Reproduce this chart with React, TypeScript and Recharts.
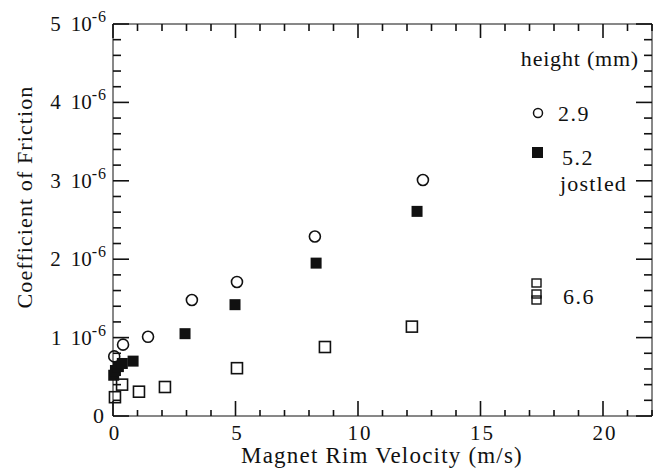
import { Scatter, ScatterChart, XAxis, YAxis } from "recharts";

// coefficient values are in units of 1e-6
const xTicks = [0, 1, 2, 3, 4, 5, 6, 7, 8, 9, 10, 11, 12, 13, 14, 15, 16, 17, 18, 19, 20, 21, 22];
const yTicks = [
  0, 0.2, 0.4, 0.6, 0.8, 1, 1.2, 1.4, 1.6, 1.8, 2, 2.2, 2.4, 2.6, 2.8, 3, 3.2, 3.4, 3.6, 3.8, 4, 4.2, 4.4,
  4.6, 4.8, 5,
];

const velocity29 = [0.05, 0.41, 1.43, 3.22, 5.06, 8.24, 12.65];
const friction29 = [0.76, 0.91, 1.01, 1.48, 1.71, 2.29, 3.01];

const velocity52 = [0.03, 0.1, 0.22, 0.38, 0.82, 2.94, 4.98, 8.29, 12.41];
const friction52 = [0.52, 0.58, 0.63, 0.67, 0.7, 1.05, 1.42, 1.95, 2.61];

const velocity66 = [0.08, 0.37, 1.06, 2.12, 5.06, 8.65, 12.2];
const friction66 = [0.24, 0.4, 0.31, 0.37, 0.61, 0.88, 1.14];

const zip = (xs: number[], ys: number[]) => xs.map((x, i) => ({ x, y: ys[i] }));

const ink = "#111";
const serif = "'Liberation Serif', 'Times New Roman', serif";

const OpenCircle = (p: any) => <circle cx={p.cx} cy={p.cy} r={5.5} fill="none" stroke={ink} strokeWidth={1.6} />;
const FilledSquare = (p: any) => <rect x={p.cx - 5.5} y={p.cy - 5.5} width={11} height={11} fill={ink} />;
const OpenSquare = (p: any) => (
  <rect x={p.cx - 5.5} y={p.cy - 5.5} width={11} height={11} fill="none" stroke={ink} strokeWidth={1.6} />
);

const BottomTick = (props: any) => {
  const { x, y, payload } = props;
  const v = payload.value;
  const major = v % 5 === 0;
  return (
    <g>
      <line x1={x} y1={y} x2={x} y2={y - (major ? 15 : 6)} stroke="#111" strokeWidth={1.6} />
      {major && v <= 20 && (
        <text x={x + 2} y={y + 24} textAnchor="middle" fontFamily={serif} fontSize={21} letterSpacing={2} fill="#111">
          {v}
        </text>
      )}
    </g>
  );
};

const TopTick = (props: any) => {
  const { x, y, payload } = props;
  const major = payload.value % 5 === 0;
  return (
    <g>
      <line x1={x} y1={y} x2={x} y2={y + (major ? 14 : 7)} stroke="#111" strokeWidth={1.6} />
    </g>
  );
};

const LeftTick = (props: any) => {
  const { x, y, payload } = props;
  const v = payload.value;
  const major = Number.isInteger(v);
  return (
    <g>
      <line x1={x} y1={y} x2={x + (major ? 16 : 8)} y2={y} stroke="#111" strokeWidth={1.6} />
      {major && v === 0 && (
        <text x={x - 9} y={y + 7} textAnchor="end" fontFamily={serif} fontSize={22} fill="#111">
          0
        </text>
      )}
      {major && v !== 0 && (
        <text x={x - 6} y={y + 7} textAnchor="end" fontFamily={serif} fontSize={21} fill="#111">
          {v}
          <tspan dx={10}>10</tspan>
          <tspan dy={-9} fontSize={16} letterSpacing={1}>
            -6
          </tspan>
        </text>
      )}
    </g>
  );
};

const RightTick = (props: any) => {
  const { x, y, payload } = props;
  const major = Number.isInteger(payload.value);
  return (
    <g>
      <line x1={x} y1={y} x2={x - (major ? 16 : 8)} y2={y} stroke="#111" strokeWidth={1.6} />
    </g>
  );
};

const YTitle = () => (
  <text transform="translate(32, 197) rotate(-90)" textAnchor="middle" fontFamily={serif} fontSize={22} letterSpacing={1.1} fill="#111">
    Coefficient of Friction
  </text>
);

const XTitle = () => (
  <text x={382} y={463} textAnchor="middle" fontFamily={serif} fontSize={23} letterSpacing={1.2} fill="#111">
    Magnet Rim Velocity (m/s)
  </text>
);

const KeyBox = () => (
  <svg width={657} height={469} style={{ position: "absolute", left: 0, top: 0 }}>
    <g fontFamily={serif} fontSize={22} fill={ink}>
      <text x={639} y={66} textAnchor="end" letterSpacing={0.8}>
        height (mm)
      </text>
      <circle cx={538} cy={113} r={4.5} fill="none" stroke={ink} strokeWidth={1.5} />
      <text x={558} y={121} letterSpacing={1.5}>
        2.9
      </text>
      <rect x={532} y={147} width={11} height={11} fill={ink} />
      <text x={562} y={165} letterSpacing={1.5}>
        5.2
      </text>
      <text x={560} y={191} letterSpacing={1.2}>
        jostled
      </text>
      <rect x={532} y={279} width={9} height={8} fill="none" stroke={ink} strokeWidth={1.4} />
      <rect x={532} y={290} width={9} height={8} fill="none" stroke={ink} strokeWidth={1.4} />
      <rect x={532} y={296} width={9} height={8} fill="none" stroke={ink} strokeWidth={1.4} />
      <text x={563} y={304} letterSpacing={1.5}>
        6.6
      </text>
    </g>
  </svg>
);

export default function App() {
  return (
    <div style={{ position: "absolute", left: 0, top: 0, width: 657, height: 469 }}>
      <KeyBox />
      <ScatterChart width={657} height={469} margin={{ top: 23, right: 4, bottom: 0, left: 0 }}>
        <XAxis
          type="number"
          dataKey="x"
          domain={[0, 22]}
          ticks={xTicks}
          interval={0}
          height={53}
          tickSize={0}
          tickMargin={0}
          stroke="#111"
          tick={<BottomTick />}
          label={{ content: XTitle }}
        />
        <XAxis
          xAxisId="top"
          orientation="top"
          type="number"
          dataKey="x"
          domain={[0, 22]}
          ticks={xTicks}
          interval={0}
          height={1}
          tickSize={0}
          tickMargin={0}
          stroke="#111"
          tick={<TopTick />}
        />
        <YAxis
          type="number"
          dataKey="y"
          domain={[0, 5]}
          ticks={yTicks}
          interval={0}
          width={113}
          tickSize={0}
          tickMargin={0}
          stroke="#111"
          tick={<LeftTick />}
          label={{ content: YTitle }}
        />
        <YAxis
          yAxisId="right"
          orientation="right"
          type="number"
          dataKey="y"
          domain={[0, 5]}
          ticks={yTicks}
          interval={0}
          width={1}
          tickSize={0}
          tickMargin={0}
          stroke="#111"
          tick={<RightTick />}
        />
        <Scatter name="2.9" data={zip(velocity29, friction29)} shape={OpenCircle} isAnimationActive={false} />
        <Scatter name="5.2 jostled" data={zip(velocity52, friction52)} shape={FilledSquare} isAnimationActive={false} />
        <Scatter
          name="6.6"
          xAxisId="top"
          yAxisId="right"
          data={zip(velocity66, friction66)}
          shape={OpenSquare}
          isAnimationActive={false}
        />
      </ScatterChart>
    </div>
  );
}
